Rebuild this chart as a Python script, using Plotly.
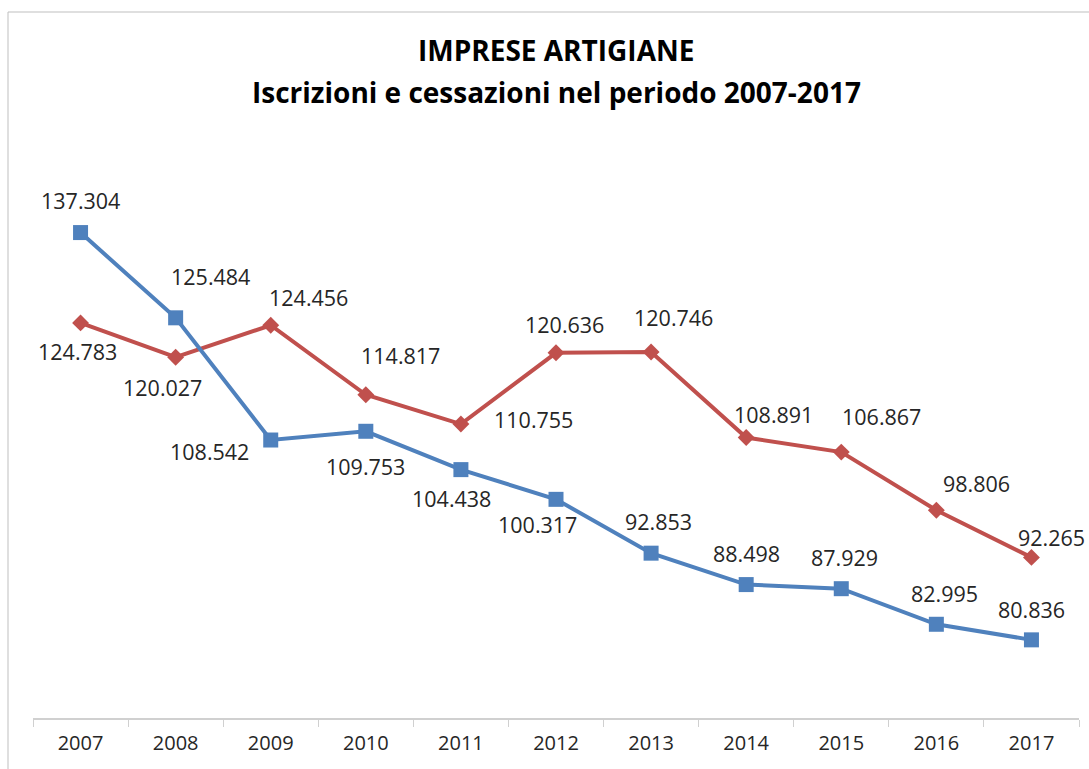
import plotly.graph_objects as go

years = ["2007", "2008", "2009", "2010", "2011", "2012", "2013", "2014", "2015", "2016", "2017"]
iscrizioni = [137304, 125484, 108542, 109753, 104438, 100317, 92853, 88498, 87929, 82995, 80836]
cessazioni = [124783, 120027, 124456, 114817, 110755, 120636, 120746, 108891, 106867, 98806, 92265]

# label offsets in pixels (dx right, dy down)
iscr_off = [(0, -32), (35, -41), (-61, 11), (0, 35), (-9, 29), (-19, 25),
            (7, -32), (0, -31), (3, -31), (8, -31), (0, -30)]
cess_off = [(-3, 29), (-13, 30), (38, -28), (35, -39), (73, -5), (8, -28),
            (22, -34), (27, -23), (40, -36), (40, -27), (20, -20)]

BLUE = "#4F81BD"
RED = "#C0504D"
FONT = "Open Sans"


def fmt(v):
    return f"{v:,}".replace(",", ".")


fig = go.Figure()
fig.add_trace(go.Scatter(
    x=years, y=cessazioni, mode="lines+markers", name="Cessazioni",
    line=dict(color=RED, width=4),
    marker=dict(symbol="diamond", size=13, color=RED),
))
fig.add_trace(go.Scatter(
    x=years, y=iscrizioni, mode="lines+markers", name="Iscrizioni",
    line=dict(color=BLUE, width=4),
    marker=dict(symbol="square", size=15, color=BLUE),
))

annotations = []
for series, offs in ((iscrizioni, iscr_off), (cessazioni, cess_off)):
    for i, (v, (dx, dy)) in enumerate(zip(series, offs)):
        annotations.append(dict(
            x=i, y=v, xref="x", yref="y", text=fmt(v), showarrow=False,
            xshift=dx, yshift=-dy, xanchor="center", yanchor="middle",
            font=dict(family=FONT, size=21.5, color="#262626"),
        ))

PLOT_TOP_PX, PLOT_BOT_PX = 141, 718
PLOT_H = PLOT_BOT_PX - PLOT_TOP_PX
L_PX, R_PX = 33, 1079
PLOT_W = R_PX - L_PX


def py(px):
    return (PLOT_BOT_PX - px) / PLOT_H


def pxp(px):
    return (px - L_PX) / PLOT_W


annotations.append(dict(
    x=pxp(556), y=py(50), xref="paper", yref="paper", text="<b>IMPRESE ARTIGIANE</b>",
    showarrow=False, xanchor="center", yanchor="middle",
    font=dict(family=FONT, size=28, color="#000000"),
))
annotations.append(dict(
    x=pxp(556), y=py(92), xref="paper", yref="paper",
    text="<b>Iscrizioni e cessazioni nel periodo 2007-2017</b>",
    showarrow=False, xanchor="center", yanchor="middle",
    font=dict(family=FONT, size=28, color="#000000"),
))

fig.update_layout(
    width=1089, height=769,
    margin=dict(l=L_PX, r=1089 - R_PX, t=PLOT_TOP_PX, b=769 - PLOT_BOT_PX),
    paper_bgcolor="white", plot_bgcolor="white",
    showlegend=False,
    annotations=annotations,
    shapes=[dict(type="rect", xref="paper", yref="paper",
                 x0=pxp(8), x1=pxp(1200), y0=py(900), y1=py(12),
                 line=dict(color="#BFBFBF", width=1), fillcolor="rgba(0,0,0,0)",
                 layer="below")],
)
fig.update_xaxes(
    type="category", showgrid=False, zeroline=False,
    showline=True, linecolor="#D0D0D0", linewidth=1.5,
    ticks="outside", tickson="boundaries", ticklen=7, tickcolor="#D0D0D0",
    tickfont=dict(family=FONT, size=20, color="#262626"),
    ticklabelstandoff=6,
    range=[-0.5, 10.5],
)
fig.update_yaxes(
    range=[70000, 150000], showgrid=False, zeroline=False, showline=False,
    showticklabels=False, ticks="",
)

fig.write_html(
    "out.html",
    config={"displayModeBar": False},
    post_script="document.body.style.margin='0';document.body.style.overflow='hidden';",
)
